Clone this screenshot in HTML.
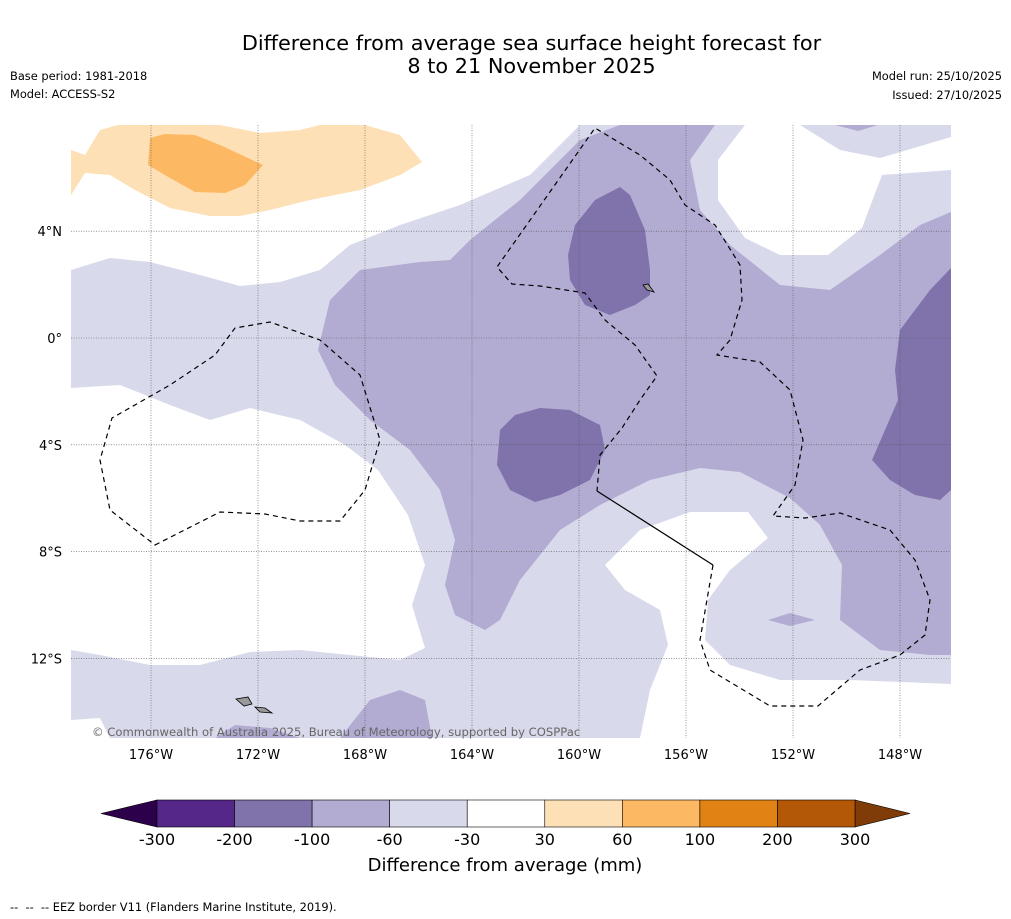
<!DOCTYPE html>
<html><head><meta charset="utf-8"><style>
body{margin:0;width:1011px;height:919px;background:#fff;font-family:"DejaVu Sans","Liberation Sans",sans-serif;overflow:hidden;position:relative}
.t{position:absolute;font-size:11.4px;color:#000;white-space:nowrap}
svg text{font-family:"DejaVu Sans","Liberation Sans",sans-serif}
</style></head><body>
<div class="t" style="left:0;width:1063px;top:32px;text-align:center;font-size:20.8px;line-height:23px">Difference from average sea surface height forecast for<br>8 to 21 November 2025</div>
<div class="t" style="left:10px;top:69px">Base period: 1981-2018</div>
<div class="t" style="left:10px;top:87px">Model: ACCESS-S2</div>
<div class="t" style="right:9px;top:69px">Model run: 25/10/2025</div>
<div class="t" style="right:9px;top:88px">Issued: 27/10/2025</div>
<div class="t" style="left:10px;top:900px">-- &nbsp;-- &nbsp;-- EEZ border V11 (Flanders Marine Institute, 2019).</div>
<svg id="map" width="1011" height="919" style="position:absolute;left:0;top:0">
<clipPath id="clip"><rect x="71" y="125" width="880" height="613"/></clipPath>
<g clip-path="url(#clip)">
<rect x="71" y="125" width="880" height="613" fill="#d8daeb"/>
<path fill="#fff" d="M71,125 L580,125 530,175 460,205 400,225 350,245 320,270 280,282 240,286 200,275 150,262 110,258 71,270Z"/>
<path fill="#fff" d="M71,388 L120,385 170,405 210,420 250,408 300,420 345,445 378,470 408,515 425,565 412,605 425,648 400,660 350,655 300,650 250,652 200,665 150,665 100,655 71,650Z"/>
<path fill="#fff" d="M71,720 L100,718 110,738 71,738Z"/>
<path fill="#fff" d="M605,565 L640,530 690,512 748,512 768,538 730,570 708,600 705,640 730,665 780,680 850,680 951,684 951,738 640,738 650,690 668,645 660,610 625,590Z"/>
<path fill="#fff" d="M745,125 L800,125 840,150 880,158 951,137 951,170 882,175 862,228 828,255 780,255 745,238 718,200 718,160Z"/>
<path fill="#b2abd2" d="M318,350 L330,300 360,270 420,262 450,260 470,240 520,200 560,160 580,140 620,125 715,125 690,160 700,210 730,245 780,285 830,290 880,255 920,225 951,212 951,655 930,655 880,650 840,620 842,565 820,525 790,498 740,472 700,468 650,480 600,505 560,530 520,580 500,620 485,630 455,615 445,585 455,540 440,490 410,450 370,420 335,385Z M768,620 L790,613 815,620 790,626Z M340,738 L370,700 400,690 425,700 432,738Z M215,738 L235,725 270,728 300,738Z M835,125 L878,125 858,131Z"/>
<path fill="#8073ac" d="M575,225 L595,200 620,187 630,195 645,230 650,270 650,295 635,305 610,315 585,305 570,280 568,255Z M500,430 L515,415 540,408 570,410 600,425 605,450 590,480 560,495 535,502 510,490 497,465Z M951,268 L930,290 900,330 895,370 898,400 885,430 872,460 890,480 915,495 940,500 951,490Z"/>
<path fill="#fee0b6" d="M71,150 L85,155 100,130 118,125 220,125 260,133 300,130 320,125 365,125 400,135 422,162 400,175 360,190 310,200 270,210 240,216 210,216 170,208 135,190 110,175 85,173 71,195Z"/>
<path fill="#fdb863" d="M150,138 L165,134 195,135 220,145 263,165 245,185 225,193 195,192 170,178 148,165Z"/>
</g>
<g id="grid"></g>
<g fill="none" stroke="#000" stroke-width="1.2">
<path stroke-dasharray="5,4" d="M155,545 L220,512 265,514 300,521 340,521 365,490 380,440 360,375 320,340 270,322 235,328 215,355 170,385 112,418 100,460 110,510 155,545Z"/>
<path stroke-dasharray="5,4" d="M713,565 L700,640 710,670 770,706 818,706 860,670 900,655 925,635 930,600 915,560 890,530 840,513 805,518 773,516 795,485 803,440 790,390 760,362 717,355 730,340 742,300 740,265 715,225 685,205 670,180 640,155 595,128 497,267 512,284 540,286 585,293 605,320 635,345 657,376 640,400 622,428 600,455 597,491"/>
<path d="M597,491 L713,565"/>
</g>
<g fill="#999" stroke="#000" stroke-width="0.8">
<path d="M236,699 L248,697 252,704 244,706Z"/><path d="M255,707 L265,708 272,713 260,712Z"/>
<path d="M643,285 L648,284 654,292 647,290Z"/>
</g>
<text x="92" y="736" font-size="11.6" fill="#666">© Commonwealth of Australia 2025, Bureau of Meteorology, supported by COSPPac</text>
<g id="cbar"></g>
<text x="505" y="871" text-anchor="middle" font-size="18">Difference from average (mm)</text>
</svg>
<script>
const lonTicks=[-176,-172,-168,-164,-160,-156,-152,-148];
const latTicks=[4,0,-4,-8,-12];
const levels=[-300,-200,-100,-60,-30,30,60,100,200,300];
const levelColors=["#542788","#8073ac","#b2abd2","#d8daeb","#ffffff","#fee0b6","#fdb863","#e08214","#b35806"];
const extendColors=["#2d004b","#7f3b08"];
const NS="http://www.w3.org/2000/svg";
const lonX=l=>151+(l+176)*26.75;
const latY=l=>338-l*26.7;
function mk(tag,attrs,parent,text){const e=document.createElementNS(NS,tag);for(const k in attrs)e.setAttribute(k,attrs[k]);if(text!==undefined)e.textContent=text;parent.appendChild(e);return e;}
const g=document.getElementById('grid');
lonTicks.forEach(l=>{const x=lonX(l);
 const ln=mk('line',{x1:x,x2:x,y1:125,y2:738,stroke:'#555','stroke-width':0.6,'stroke-dasharray':'1,1.5'},g);
 
 
 const t=mk('text',{x:x,y:759,'text-anchor':'middle','font-size':13},g,Math.abs(l)+'°W');
 
 });
latTicks.forEach(l=>{const y=latY(l);
 const ln=mk('line',{x1:71,x2:951,y1:y,y2:y,stroke:'#555','stroke-width':0.6,'stroke-dasharray':'1,1.5'},g);
 
 
 const lab=l===0?'0°':Math.abs(l)+'°'+(l>0?'N':'S');
 const t=mk('text',{x:62,y:y+5,'text-anchor':'end','font-size':13},g,lab);
 
 });
const cb=document.getElementById('cbar');
const x0=157,x1=855,yT=800,yB=827;
const cx=i=>x0+(x1-x0)*i/(levels.length-1);
const l1=mk('polygon',{points:`101,813.5 ${x0},${yT} ${x0},${yB}`,fill:extendColors[0],stroke:'#000','stroke-width':0.6},cb);


const l2=mk('polygon',{points:`910,813.5 ${x1},${yT} ${x1},${yB}`,fill:extendColors[1],stroke:'#000','stroke-width':0.6},cb);


levelColors.forEach((c,i)=>{const r=mk('rect',{x:cx(i),y:yT,width:cx(i+1)-cx(i),height:yB-yT,fill:c,stroke:'#000','stroke-width':0.6},cb);
 
 });
levels.forEach((v,i)=>{const t=mk('text',{x:cx(i),y:845,'text-anchor':'middle','font-size':16},cb,v);
 
 });
</script>
</body></html>
